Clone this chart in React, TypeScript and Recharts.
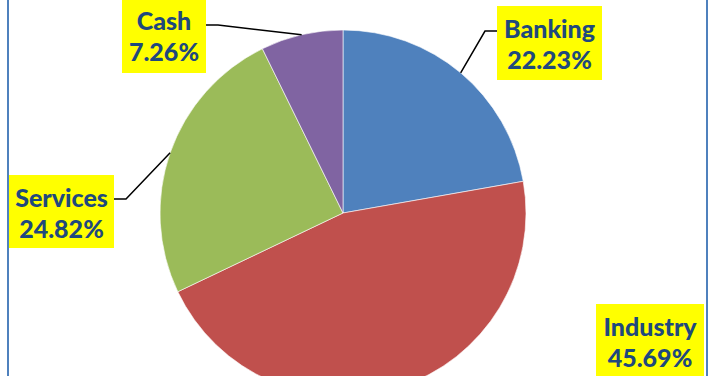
import { PieChart, Pie, Cell } from "recharts"

const sectors = ["Banking", "Industry", "Services", "Cash"]
const shares = [22.23, 45.69, 24.82, 7.26]
const sectorColors = ["#4F81BD", "#C0504D", "#9BBB59", "#8064A2"]

const data = sectors.map((name, i) => ({ name, value: shares[i] }))

// where each yellow label box sits, plus the elbow of its leader line
const labelBoxes = [
  { x: 497, y: 6, w: 105, h: 74, elbow: [485, 31], side: "left", line: true },
  { x: 596, y: 304, w: 108, h: 80, elbow: [0, 0], side: "left", line: false },
  { x: 9, y: 175, w: 105, h: 73, elbow: [126, 199], side: "right", line: true },
  { x: 122, y: -2, w: 84, h: 75, elbow: [218, 25], side: "right", line: true },
]

const RAD = Math.PI / 180

function renderLabel(props: any) {
  const { cx, cy, midAngle, outerRadius, index, name, value } = props
  const box = labelBoxes[index]
  const px = cx + outerRadius * Math.cos(-midAngle * RAD)
  const py = cy + outerRadius * Math.sin(-midAngle * RAD)
  const edgeX = box.side === "left" ? box.x : box.x + box.w
  const tx = box.x + box.w / 2
  const font = { fill: "#1F497D", fontFamily: "Lato, sans-serif", fontWeight: 900, fontSize: 25 }
  return (
    <g key={`lbl-${index}`}>
      {box.line && (
        <polyline
          points={`${px},${py} ${box.elbow[0]},${box.elbow[1]} ${edgeX},${box.elbow[1]}`}
          fill="none"
          stroke="#000"
          strokeWidth={1.5}
        />
      )}
      <rect x={box.x} y={box.y} width={box.w} height={box.h} fill="#FFFF00" />
      <text x={tx} y={box.y + 32} textAnchor="middle" {...font}>
        {name}
      </text>
      <text x={tx} y={box.y + 63} textAnchor="middle" {...font}>
        {value.toFixed(2)}%
      </text>
    </g>
  )
}

export default function App() {
  return (
    <div style={{ position: "absolute", left: 0, top: 0, width: 711, height: 376, background: "#fff" }}>
      <div
        style={{
          position: "absolute",
          left: 7,
          top: -2,
          width: 697,
          height: 380,
          borderLeft: "2px solid #4F81BD",
          borderRight: "2px solid #4F81BD",
        }}
      />
      <PieChart
        width={711}
        height={376}
        margin={{ top: 0, right: 0, bottom: 0, left: 0 }}
        style={{ position: "absolute", left: 0, top: 0 }}
      >
        <Pie
          data={data}
          dataKey="value"
          nameKey="name"
          cx={343}
          cy={213}
          outerRadius={183}
          startAngle={90}
          endAngle={-270}
          stroke="#fff"
          strokeWidth={0.6}
          label={renderLabel}
          labelLine={false}
          isAnimationActive={false}
        >
          {data.map((d, i) => (
            <Cell key={d.name} fill={sectorColors[i]} />
          ))}
        </Pie>
      </PieChart>
    </div>
  )
}
